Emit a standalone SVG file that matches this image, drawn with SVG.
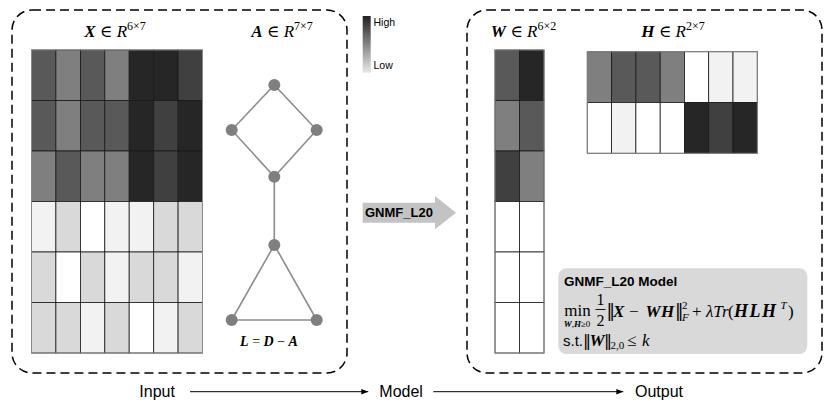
<svg xmlns="http://www.w3.org/2000/svg" width="830" height="406" viewBox="0 0 830 406">
<defs>
<style>
.panel{fill:none;stroke:#000;stroke-width:1.5;stroke-dasharray:9,5}
.cell{stroke:#1a1a1a;stroke-width:0.8}
.outer{fill:none;stroke:#8a8a8a;stroke-width:1}
.edge{stroke:#8c8c8c;stroke-width:1.6;fill:none}
.gnode{fill:#7f7f7f}
.sans{font-family:"Liberation Sans",Arial,sans-serif;fill:#000}
.math{font-family:"Liberation Serif","DejaVu Serif",serif;fill:#000}
.f17{font-size:17px}
.f11{font-size:11px}
.bi{font-weight:bold;font-style:italic}
.it{font-style:italic}
.nrm{font-family:"DejaVu Sans",sans-serif;font-weight:normal;font-style:normal}
.axis{stroke:#000;stroke-width:1;fill:none}
.c1{fill:#262626}.c2{fill:#404040}.c3{fill:#595959}.c4{fill:#7f7f7f}.c5{fill:#d9d9d9}.c6{fill:#f2f2f2}.c7{fill:#ffffff}
</style>
<linearGradient id="cbar" x1="0" y1="0" x2="0" y2="1">
<stop offset="0" stop-color="#222"/>
<stop offset="1" stop-color="#e8e8e8"/>
</linearGradient>
<marker id="ah" viewBox="0 0 10 10" refX="10" refY="5" markerWidth="7" markerHeight="7" markerUnits="userSpaceOnUse" orient="auto">
<path d="M0,1 L10,5 L0,9 z" fill="#000"/>
</marker>
</defs>
<rect width="830" height="406" fill="#fff"/>

<!-- panels -->
<g id="input-panel">
<rect class="panel" x="12" y="10" width="335" height="363" rx="20" ry="20"/>
</g>
<g id="output-panel">
<rect class="panel" x="467" y="10" width="355" height="363" rx="20" ry="20"/>
</g>

<!-- X matrix -->
<g id="matrix-X">
<text class="math" x="115" y="37" text-anchor="middle" font-size="17"><tspan class="bi">X</tspan> ∈ <tspan class="it">R</tspan><tspan dy="-7" font-size="12">6×7</tspan></text>
<g class="cell">
<rect class="c3" x="31.5" y="50" width="24.4" height="50.5"/>
<rect class="c4" x="55.9" y="50" width="24.5" height="50.5"/>
<rect class="c3" x="80.4" y="50" width="24.4" height="50.5"/>
<rect class="c4" x="104.8" y="50" width="24.4" height="50.5"/>
<rect class="c1" x="129.2" y="50" width="24.5" height="50.5"/>
<rect class="c1" x="153.7" y="50" width="24.4" height="50.5"/>
<rect class="c2" x="178.1" y="50" width="24.4" height="50.5"/>

<rect class="c3" x="31.5" y="100.5" width="24.4" height="50.5"/>
<rect class="c4" x="55.9" y="100.5" width="24.5" height="50.5"/>
<rect class="c3" x="80.4" y="100.5" width="24.4" height="50.5"/>
<rect class="c3" x="104.8" y="100.5" width="24.4" height="50.5"/>
<rect class="c1" x="129.2" y="100.5" width="24.5" height="50.5"/>
<rect class="c2" x="153.7" y="100.5" width="24.4" height="50.5"/>
<rect class="c1" x="178.1" y="100.5" width="24.4" height="50.5"/>

<rect class="c4" x="31.5" y="151" width="24.4" height="50.5"/>
<rect class="c3" x="55.9" y="151" width="24.5" height="50.5"/>
<rect class="c4" x="80.4" y="151" width="24.4" height="50.5"/>
<rect class="c4" x="104.8" y="151" width="24.4" height="50.5"/>
<rect class="c1" x="129.2" y="151" width="24.5" height="50.5"/>
<rect class="c2" x="153.7" y="151" width="24.4" height="50.5"/>
<rect class="c1" x="178.1" y="151" width="24.4" height="50.5"/>

<rect class="c6" x="31.5" y="201.5" width="24.4" height="50.5"/>
<rect class="c5" x="55.9" y="201.5" width="24.5" height="50.5"/>
<rect class="c7" x="80.4" y="201.5" width="24.4" height="50.5"/>
<rect class="c6" x="104.8" y="201.5" width="24.4" height="50.5"/>
<rect class="c6" x="129.2" y="201.5" width="24.5" height="50.5"/>
<rect class="c5" x="153.7" y="201.5" width="24.4" height="50.5"/>
<rect class="c5" x="178.1" y="201.5" width="24.4" height="50.5"/>

<rect class="c5" x="31.5" y="252" width="24.4" height="50.5"/>
<rect class="c7" x="55.9" y="252" width="24.5" height="50.5"/>
<rect class="c5" x="80.4" y="252" width="24.4" height="50.5"/>
<rect class="c6" x="104.8" y="252" width="24.4" height="50.5"/>
<rect class="c5" x="129.2" y="252" width="24.5" height="50.5"/>
<rect class="c5" x="153.7" y="252" width="24.4" height="50.5"/>
<rect class="c6" x="178.1" y="252" width="24.4" height="50.5"/>

<rect class="c5" x="31.5" y="302.5" width="24.4" height="50.5"/>
<rect class="c5" x="55.9" y="302.5" width="24.5" height="50.5"/>
<rect class="c6" x="80.4" y="302.5" width="24.4" height="50.5"/>
<rect class="c5" x="104.8" y="302.5" width="24.4" height="50.5"/>
<rect class="c7" x="129.2" y="302.5" width="24.5" height="50.5"/>
<rect class="c6" x="153.7" y="302.5" width="24.4" height="50.5"/>
<rect class="c5" x="178.1" y="302.5" width="24.4" height="50.5"/>
</g>
<rect class="outer" x="31.5" y="50" width="171" height="303"/>
</g>

<!-- graph A -->
<g id="graph-A">
<text class="math" x="282" y="37" text-anchor="middle" font-size="17"><tspan class="bi">A</tspan> ∈ <tspan class="it">R</tspan><tspan dy="-7" font-size="12">7×7</tspan></text>
<g id="graph-edges">
<line class="edge" x1="274.3" y1="85" x2="231.7" y2="130"/>
<line class="edge" x1="274.3" y1="85" x2="316.7" y2="130"/>
<line class="edge" x1="231.7" y1="130" x2="274.3" y2="176.7"/>
<line class="edge" x1="316.7" y1="130" x2="274.3" y2="176.7"/>
<line class="edge" x1="274.3" y1="176.7" x2="274.3" y2="245"/>
<line class="edge" x1="274.3" y1="245" x2="231.7" y2="320"/>
<line class="edge" x1="274.3" y1="245" x2="316.7" y2="320"/>
<line class="edge" x1="231.7" y1="320" x2="316.7" y2="320"/>
</g>
<g id="node-1"><circle class="gnode" cx="274.3" cy="85" r="6"/></g>
<g id="node-2"><circle class="gnode" cx="231.7" cy="130" r="6"/></g>
<g id="node-3"><circle class="gnode" cx="316.7" cy="130" r="6"/></g>
<g id="node-4"><circle class="gnode" cx="274.3" cy="176.7" r="6"/></g>
<g id="node-5"><circle class="gnode" cx="274.3" cy="245" r="6"/></g>
<g id="node-6"><circle class="gnode" cx="231.7" cy="320" r="6"/></g>
<g id="node-7"><circle class="gnode" cx="316.7" cy="320" r="6"/></g>
<text class="math" x="269" y="346" text-anchor="middle" font-size="14"><tspan class="bi">L</tspan> = <tspan class="bi">D</tspan> − <tspan class="bi">A</tspan></text>
</g>

<!-- colour bar -->
<g id="colorbar">
<rect x="362.7" y="16" width="8" height="56.7" fill="url(#cbar)"/>
<text class="sans" x="373.5" y="26" font-size="10.5">High</text>
<text class="sans" x="373.5" y="68.5" font-size="10.5">Low</text>
</g>

<!-- GNMF arrow -->
<g id="gnmf-arrow">
<polygon points="362.7,202.7 435,202.7 435,196 456,212.7 435,229.3 435,222.7 362.7,222.7" fill="#c3c3c3"/>
<text class="sans" x="365" y="217.3" font-size="13" font-weight="bold" fill="#1a1a1a">GNMF_L20</text>
</g>

<!-- W matrix -->
<g id="matrix-W">
<text class="math" x="523.5" y="37" text-anchor="middle" font-size="17"><tspan class="bi">W</tspan> ∈ <tspan class="it">R</tspan><tspan dy="-7" font-size="12">6×2</tspan></text>
<g class="cell">
<rect class="c3" x="495" y="50" width="24.5" height="50.5"/>
<rect class="c1" x="519.5" y="50" width="24.5" height="50.5"/>
<rect class="c4" x="495" y="100.5" width="24.5" height="50.5"/>
<rect class="c3" x="519.5" y="100.5" width="24.5" height="50.5"/>
<rect class="c2" x="495" y="151" width="24.5" height="50.5"/>
<rect class="c4" x="519.5" y="151" width="24.5" height="50.5"/>
<rect class="c7" x="495" y="201.5" width="24.5" height="50.5"/>
<rect class="c7" x="519.5" y="201.5" width="24.5" height="50.5"/>
<rect class="c7" x="495" y="252" width="24.5" height="50.5"/>
<rect class="c7" x="519.5" y="252" width="24.5" height="50.5"/>
<rect class="c7" x="495" y="302.5" width="24.5" height="50.5"/>
<rect class="c7" x="519.5" y="302.5" width="24.5" height="50.5"/>
</g>
<rect class="outer" x="495" y="50" width="49" height="303"/>
</g>

<!-- H matrix -->
<g id="matrix-H">
<text class="math" x="673" y="37" text-anchor="middle" font-size="17"><tspan class="bi">H</tspan> ∈ <tspan class="it">R</tspan><tspan dy="-7" font-size="12">2×7</tspan></text>
<g class="cell">
<rect class="c4" x="587.3" y="51.7" width="24.3" height="50.8"/>
<rect class="c3" x="611.6" y="51.7" width="24.3" height="50.8"/>
<rect class="c3" x="635.9" y="51.7" width="24.3" height="50.8"/>
<rect class="c4" x="660.2" y="51.7" width="24.3" height="50.8"/>
<rect class="c7" x="684.5" y="51.7" width="24.2" height="50.8"/>
<rect class="c6" x="708.7" y="51.7" width="24.3" height="50.8"/>
<rect class="c6" x="733" y="51.7" width="24.3" height="50.8"/>
<rect class="c7" x="587.3" y="102.5" width="24.3" height="50.8"/>
<rect class="c6" x="611.6" y="102.5" width="24.3" height="50.8"/>
<rect class="c7" x="635.9" y="102.5" width="24.3" height="50.8"/>
<rect class="c7" x="660.2" y="102.5" width="24.3" height="50.8"/>
<rect class="c1" x="684.5" y="102.5" width="24.2" height="50.8"/>
<rect class="c2" x="708.7" y="102.5" width="24.3" height="50.8"/>
<rect class="c1" x="733" y="102.5" width="24.3" height="50.8"/>
</g>
<rect class="outer" x="587.3" y="51.7" width="170" height="101.6"/>
</g>

<!-- model box -->
<g id="model-box">
<rect x="558.3" y="268.3" width="249" height="85.7" rx="8" ry="8" fill="#d9d9d9"/>
<text class="sans" x="564" y="286" font-size="13.5" font-weight="bold">GNMF_L20 Model</text>
<text class="math f17" x="577.5" y="316" text-anchor="middle">min</text>
<text class="math" x="577" y="327" text-anchor="middle" font-size="9"><tspan class="bi">W</tspan>,<tspan class="bi">H</tspan>≥0</text>
<text class="math" x="600.5" y="305" text-anchor="middle" font-size="16">1</text>
<line x1="595.5" y1="309.5" x2="605.5" y2="309.5" stroke="#000" stroke-width="0.9"/>
<text class="math" x="600.5" y="325.5" text-anchor="middle" font-size="16">2</text>
<text class="math f17" y="317"><tspan class="nrm" x="606.5">‖</tspan><tspan class="bi" x="613">X</tspan><tspan x="629">−</tspan><tspan class="bi" x="645.5" letter-spacing="0.5">WH</tspan><tspan class="nrm" x="675">‖</tspan><tspan class="f11" x="682" y="309">2</tspan><tspan class="f11 it" x="682" y="321">F</tspan><tspan x="692" y="317">+</tspan><tspan class="it" x="706">λTr</tspan><tspan x="728">(</tspan><tspan class="bi" x="734" font-size="18" letter-spacing="1.5">HLH</tspan><tspan class="f11 it" x="780.5" y="309">T</tspan><tspan x="788" y="317">)</tspan></text>
<text class="math f17" y="346"><tspan class="sans" x="563" font-size="15">s.t.</tspan><tspan class="nrm" x="583" font-size="16">‖</tspan><tspan class="bi" x="589.5">W</tspan><tspan class="nrm" x="604" font-size="16">‖</tspan><tspan class="f11" x="610.5" y="349">2,0</tspan><tspan x="627" y="346">≤</tspan><tspan class="it" x="642">k</tspan></text>
</g>

<!-- bottom axis -->
<g id="label-input"><text class="sans" x="139.3" y="396.7" font-size="16">Input</text></g>
<g id="label-model"><text class="sans" x="379.3" y="396.7" font-size="16">Model</text></g>
<g id="label-output"><text class="sans" x="635" y="396.7" font-size="16">Output</text></g>
<g id="connectors">
<line class="axis" x1="190" y1="391.7" x2="368.3" y2="391.7" marker-end="url(#ah)"/>
<line class="axis" x1="433.3" y1="391.7" x2="623.3" y2="391.7" marker-end="url(#ah)"/>
</g>
</svg>
